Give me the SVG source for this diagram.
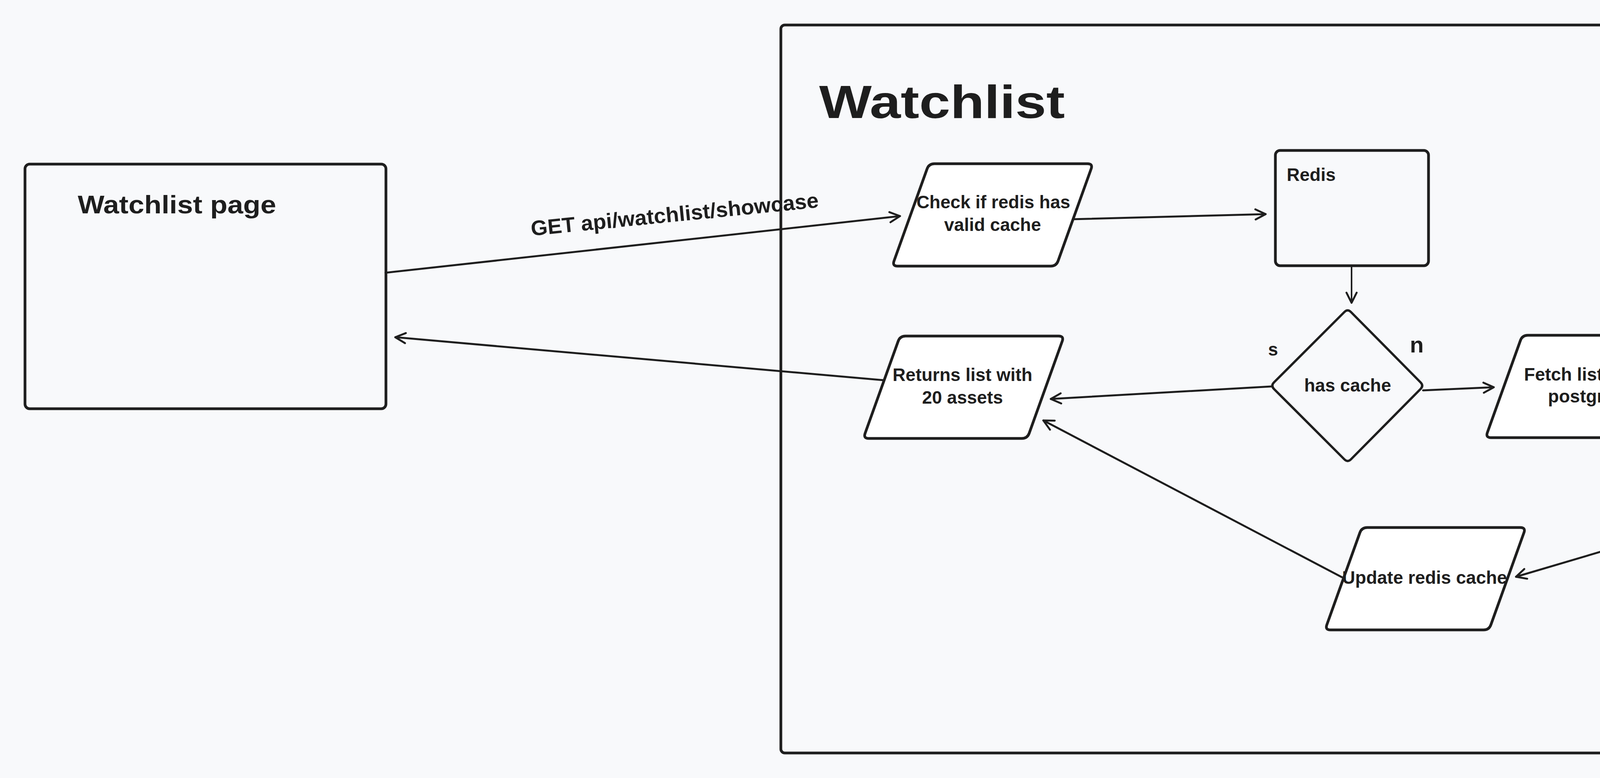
<svg xmlns="http://www.w3.org/2000/svg" width="5229" height="1991" viewBox="0 0 5229 1991">
  <style>
    .box { fill: none; stroke: #1e1e1e; stroke-width: 7; }
    .para { fill: #ffffff; stroke: #1e1e1e; stroke-width: 7; stroke-linejoin: round; }
    .shape { fill: none; stroke: #1e1e1e; stroke-width: 6; stroke-linejoin: round; stroke-linecap: round; }
    .conn { fill: none; stroke: #1e1e1e; stroke-width: 5; stroke-linecap: round; marker-end: url(#ah); }
    .t { font-family: "Liberation Sans", Arial, sans-serif; font-weight: bold; fill: #1e1e1e; }
    .c { text-anchor: middle; }
    .n46 { font-size: 46px; }
  </style>
  <defs>
    <marker id="ah" viewBox="-34 -20 40 40" markerWidth="40" markerHeight="40" refX="0" refY="0" orient="auto" markerUnits="userSpaceOnUse">
      <path d="M -26 -13 L 0 0 L -26 13" fill="none" stroke="#1e1e1e" stroke-width="5" stroke-linecap="round" stroke-linejoin="round"/>
    </marker>
    <path id="pg" d="M 108,0 L 500,0 Q 514,0 509.3,13.2 L 424.7,248.8 Q 420,262 406,262 L 14,262 Q 0,262 4.7,248.8 L 89.3,13.2 Q 94,0 108,0 Z"/>
  </defs>

  <rect x="0" y="0" width="5229" height="1991" fill="#f8f9fb"/>

  <g id="container-watchlist">
    <rect class="box" x="1999" y="64" width="2362" height="1863" rx="10"/>
    <text class="t" x="2097" y="302" font-size="118" textLength="629" lengthAdjust="spacingAndGlyphs">Watchlist</text>
  </g>

  <g id="node-watchlist-page">
    <rect class="box" x="64" y="420" width="924" height="626" rx="12"/>
    <text class="t" x="199" y="546" font-size="64" textLength="508" lengthAdjust="spacingAndGlyphs">Watchlist page</text>
  </g>

  <g id="node-check-cache">
    <use href="#pg" class="para" transform="translate(2284,419)"/>
    <text class="t c n46" x="2543" y="533">Check if redis has</text>
    <text class="t c n46" x="2541" y="591">valid cache</text>
  </g>

  <g id="node-redis">
    <rect class="box" x="3265" y="385" width="392" height="295" rx="12"/>
    <text class="t n46" x="3294" y="463">Redis</text>
  </g>

  <g id="node-has-cache">
    <path class="shape" d="M 3441.6,798.5 Q 3450,790 3458.4,798.5 L 3636.6,978.5 Q 3645,987 3636.6,995.5 L 3458.4,1175.5 Q 3450,1184 3441.6,1175.5 L 3261.4,995.5 Q 3253,987 3261.4,978.5 Z"/>
    <text class="t c n46" x="3450" y="1002">has cache</text>
  </g>

  <g id="node-returns">
    <use href="#pg" class="para" transform="translate(2210,860)"/>
    <text class="t c n46" x="2464" y="975">Returns list with</text>
    <text class="t c n46" x="2464" y="1033">20 assets</text>
  </g>

  <g id="node-fetch">
    <use href="#pg" class="para" transform="translate(3803,858)"/>
    <text class="t c n46" x="4060" y="974">Fetch list from</text>
    <text class="t c n46" x="4060" y="1030">postgres</text>
  </g>

  <g id="node-postgres">
    <ellipse class="shape" cx="4965" cy="887" rx="197" ry="27"/>
    <ellipse class="shape" cx="4971" cy="1136" rx="196" ry="26"/>
    <line class="shape" x1="4771" y1="903" x2="4779" y2="1130"/>
    <line class="shape" x1="5157" y1="895" x2="5159" y2="1127"/>
    <text class="t c n46" x="4962" y="1033">Postgres</text>
  </g>

  <g id="node-update">
    <use href="#pg" class="para" transform="translate(3392,1350)"/>
    <text class="t c n46" x="3647" y="1494">Update redis cache</text>
  </g>

  <g id="connectors">
    <line class="conn" x1="987" y1="698" x2="2304" y2="553"/>
    <text class="t c" x="1729" y="567" font-size="54" textLength="740" lengthAdjust="spacingAndGlyphs" transform="rotate(-5.65 1729 567)">GET api/watchlist/showcase</text>
    <line class="conn" x1="2747" y1="561" x2="3240" y2="548"/>
    <line class="conn" x1="3460" y1="683" x2="3460" y2="775" style="stroke-width:4"/>
    <line class="conn" x1="3254" y1="989" x2="2690" y2="1021"/>
    <text class="t c n46" x="3259" y="910">s</text>
    <line class="conn" x1="3643" y1="999" x2="3824" y2="991"/>
    <text class="t c" x="3627" y="902" font-size="58">n</text>
    <line class="conn" x1="4269" y1="998" x2="4748" y2="995"/>
    <line class="conn" x1="4933" y1="1165" x2="3881" y2="1476"/>
    <line class="conn" x1="3435" y1="1477" x2="2671" y2="1076"/>
    <line class="conn" x1="2262" y1="973" x2="1012" y2="863"/>
  </g>
</svg>
